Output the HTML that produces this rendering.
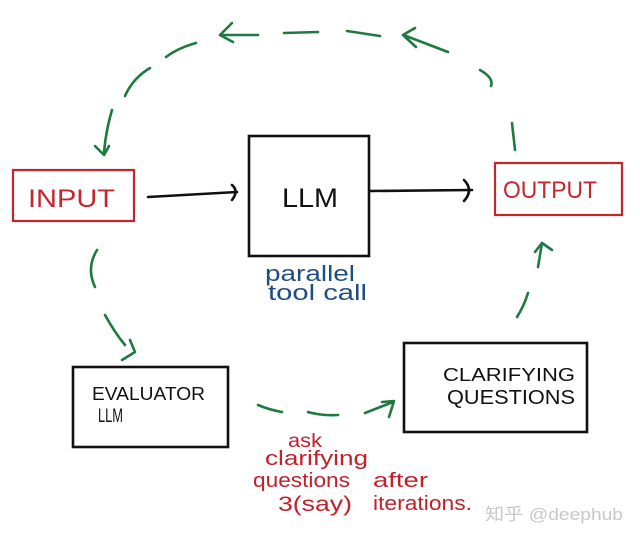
<!DOCTYPE html>
<html><head><meta charset="utf-8"><style>
html,body{margin:0;padding:0;background:#fff;}
svg{display:block;}
text{font-family:"Liberation Sans","Noto Sans CJK SC",sans-serif;}
</style></head><body>
<svg width="640" height="541" viewBox="0 0 640 541" xmlns="http://www.w3.org/2000/svg">
<rect width="640" height="541" fill="#fff"/>
<!-- boxes -->
<rect x="13" y="170" width="121" height="51" fill="none" stroke="#c4262e" stroke-width="2.2"/>
<rect x="249" y="136" width="120" height="120" fill="none" stroke="#111" stroke-width="2.6"/>
<rect x="495" y="163" width="127" height="52" fill="none" stroke="#c4262e" stroke-width="2.2"/>
<rect x="73" y="367" width="155" height="80" fill="none" stroke="#111" stroke-width="2.6"/>
<rect x="404" y="343" width="183" height="89" fill="none" stroke="#111" stroke-width="2.6"/>

<!-- black arrows -->
<g fill="none" stroke="#111" stroke-width="2.6" stroke-linecap="round" stroke-linejoin="round">
<path d="M148,197 L237,192"/>
<path d="M232,185 Q239,191 232,200"/>
<path d="M370,191 L472,190"/>
<path d="M464,180 Q474,190 464,201"/>
</g>

<!-- green dashed connectors -->
<g fill="none" stroke="#1f7a40" stroke-width="2.6" stroke-linecap="round" stroke-linejoin="round">
<path d="M112,110 Q106,130 104,152"/>
<path d="M95,146 L104,155 L109,146"/>
<path d="M125,96 Q133,78 150,68"/>
<path d="M166,57 Q178,48 196,43"/>
<path d="M258,35 L220,35"/>
<path d="M232,23 L220,35 L233,42"/>
<path d="M284,33 L318,32"/>
<path d="M347,31 L380,36"/>
<path d="M448,52 L406,36"/>
<path d="M415,28 L403,35 L416,47"/>
<path d="M480,70 Q494,78 491,86"/>
<path d="M512,123 L515,150"/>
<path d="M97,250 Q86,268 95,287"/>
<path d="M105,315 Q115,333 125,345"/>
<path d="M130,340 L135,352 L122,360"/>
<path d="M258,405 Q270,410 282,412"/>
<path d="M308,412 Q322,416 338,415"/>
<path d="M365,413 L393,402"/>
<path d="M382,402 L394,401 L389,417"/>
<path d="M517,317 Q524,306 528,293"/>
<path d="M538,267 L542,243"/>
<path d="M535,252 L542,243 L552,250"/>
</g>

<!-- labels -->
<text x="28" y="207" font-size="25" fill="#c4262e" textLength="87" lengthAdjust="spacingAndGlyphs">INPUT</text>
<text x="503" y="198" font-size="24" fill="#c4262e" textLength="94" lengthAdjust="spacingAndGlyphs">OUTPUT</text>
<text x="282" y="207" font-size="27" fill="#111" textLength="56" lengthAdjust="spacingAndGlyphs">LLM</text>
<text x="92" y="400" font-size="18" fill="#111" textLength="113" lengthAdjust="spacingAndGlyphs">EVALUATOR</text>
<text x="98" y="422" font-size="19" fill="#111" textLength="25" lengthAdjust="spacingAndGlyphs">LLM</text>
<text x="443" y="381" font-size="18" fill="#111" textLength="132" lengthAdjust="spacingAndGlyphs">CLARIFYING</text>
<text x="447" y="404" font-size="20" fill="#111" textLength="128" lengthAdjust="spacingAndGlyphs">QUESTIONS</text>

<text x="265" y="281" font-size="22" fill="#1f4e86" textLength="90" lengthAdjust="spacingAndGlyphs">parallel</text>
<text x="268" y="300" font-size="22" fill="#1f4e86" textLength="99" lengthAdjust="spacingAndGlyphs">tool call</text>

<g fill="#c4202a">
<text x="288" y="447" font-size="19" textLength="34" lengthAdjust="spacingAndGlyphs">ask</text>
<text x="265" y="465" font-size="20" textLength="103" lengthAdjust="spacingAndGlyphs">clarifying</text>
<text x="253" y="487" font-size="20" textLength="97" lengthAdjust="spacingAndGlyphs">questions</text>
<text x="373" y="487" font-size="20" textLength="55" lengthAdjust="spacingAndGlyphs">after</text>
<text x="278" y="511" font-size="21" textLength="74" lengthAdjust="spacingAndGlyphs">3(say)</text>
<text x="373" y="510" font-size="20" textLength="99" lengthAdjust="spacingAndGlyphs">iterations.</text>
</g>

<text x="485" y="520" font-size="17" fill="#c8c8c8" textLength="138" lengthAdjust="spacingAndGlyphs">知乎 @deephub</text>
</svg>
</body></html>
